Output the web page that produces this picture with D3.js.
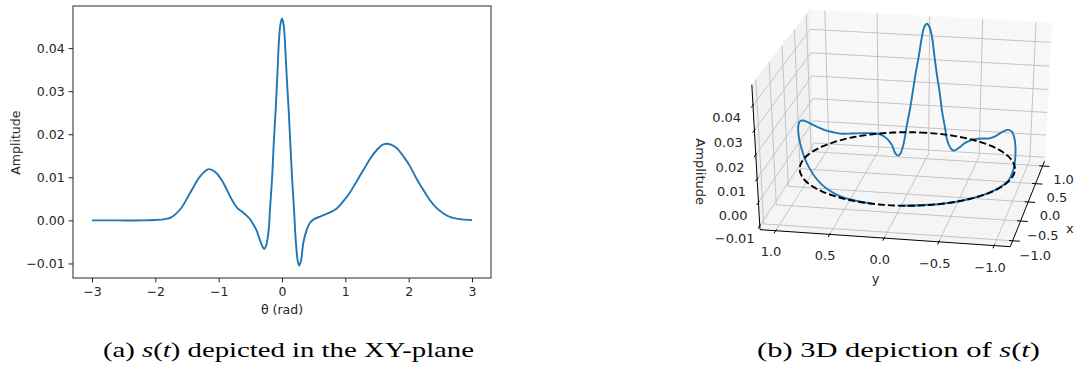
<!DOCTYPE html>
<html>
<head>
<meta charset="utf-8">
<script src="https://cdn.jsdelivr.net/npm/d3@7"></script>
<style>
body{margin:0;background:#fff}
svg{display:block}
text{font-family:"DejaVu Sans",sans-serif;fill:#262626}
.cap{font-family:"Liberation Serif",serif;fill:#000}
</style>
</head>
<body>
<svg width="1075" height="370"></svg>
<script>
// signal s(theta)
var theta = [-3.0,-2.6,-2.2,-2.0,-1.85,-1.75,-1.6,-1.45,-1.3,-1.2,-1.15,-1.05,-0.95,-0.87,-0.78,-0.7,-0.62,-0.55,-0.5,-0.45,-0.4,-0.35,-0.3,-0.28,-0.25,-0.21,-0.19,-0.155,-0.13,-0.1,-0.074,-0.05,-0.025,0,0.025,0.047,0.074,0.105,0.131,0.158,0.19,0.22,0.25,0.273,0.3,0.336,0.39,0.45,0.52,0.62,0.75,0.86,0.96,1.07,1.18,1.29,1.4,1.5,1.58,1.65,1.72,1.81,1.92,2.02,2.12,2.23,2.33,2.44,2.55,2.65,2.8,3.0];
var amplitude = [0,0,0,0.0001,0.0003,0.0007,0.0027,0.0064,0.0101,0.0116,0.0119,0.0112,0.0093,0.0071,0.0045,0.0028,0.0019,0.0010,0.0002,-0.0010,-0.0024,-0.0045,-0.0063,-0.0066,-0.0058,-0.0022,0.0025,0.0102,0.0180,0.0257,0.0335,0.0413,0.0455,0.0469,0.0455,0.0413,0.0335,0.0257,0.0180,0.0102,0.0025,-0.0053,-0.0095,-0.0105,-0.0094,-0.0053,-0.0022,-0.0004,0.0004,0.0010,0.0018,0.0027,0.0043,0.0064,0.0091,0.0118,0.0145,0.0164,0.0175,0.0178,0.0176,0.0168,0.0148,0.0126,0.0098,0.0071,0.0048,0.0029,0.0016,0.0008,0.0003,0.0001];

var xTicks = [-3,-2,-1,0,1,2,3];
var yTicks = [-0.01,0,0.01,0.02,0.03,0.04];
var xyTicks3d = [-1,-0.5,0,0.5,1];
var zTicks3d = [-0.01,0,0.01,0.02,0.03,0.04];

var blue = "#1f77b4";
var svg = d3.select("svg");
var pts = theta.map(function(t,i){ return {t:t, a:amplitude[i]}; });

// ---------- (a) flat plot ----------
var xScale = d3.scaleLinear().domain([-3.3,3.3]).range([73,491]);
var yScale = d3.scaleLinear().domain([-0.01337,0.04977]).range([278,6]);

var gA = svg.append("g");
gA.append("g")
  .attr("transform","translate(0,278)")
  .call(d3.axisBottom(xScale).tickValues(xTicks).tickFormat(d3.format("d")).tickSize(4.4).tickPadding(5))
  .call(function(g){ g.select(".domain").remove(); });
gA.append("g")
  .attr("transform","translate(73,0)")
  .call(d3.axisLeft(yScale).tickValues(yTicks).tickFormat(d3.format(".2f")).tickSize(4.4).tickPadding(4))
  .call(function(g){ g.select(".domain").remove(); });
gA.selectAll(".tick text").attr("font-size","12.5px").attr("font-family","DejaVu Sans").attr("fill","#262626");
gA.selectAll(".tick line").attr("stroke","#262626").attr("stroke-width",1);

gA.append("path")
  .datum(pts)
  .attr("fill","none")
  .attr("stroke",blue)
  .attr("stroke-width",1.9)
  .attr("d", d3.line().x(function(d){return xScale(d.t);}).y(function(d){return yScale(d.a);}).curve(d3.curveCatmullRom));

gA.append("rect").attr("x",73).attr("y",6).attr("width",418).attr("height",272)
  .attr("fill","none").attr("stroke","#262626").attr("stroke-width",1);

gA.append("text").attr("x",282).attr("y",313.5).attr("text-anchor","middle").attr("font-size","12.5px").text("θ (rad)");
gA.append("text").attr("transform","translate(19.5,142.7) rotate(-90)").attr("text-anchor","middle").attr("font-size","12.5px").text("Amplitude");

// ---------- (b) 3D plot ----------
var elev = 30, azim = 190.5, dist = 10;
var wx = d3.scaleLinear().domain([-1.1,1.1]).range([0,1]);
var wy = d3.scaleLinear().domain([-1.1,1.1]).range([0,1]);
var wz = d3.scaleLinear().domain([-0.0105,0.0469]).range([0,1]);
var b0 = -1/48, b1 = 1 + 1/48;

var er = elev*Math.PI/180, ar = azim*Math.PI/180;
var R = [0.5,0.5,0.5];
var E = [R[0]+Math.cos(ar)*Math.cos(er)*dist, R[1]+Math.sin(ar)*Math.cos(er)*dist, R[2]+Math.sin(er)*dist];
function sub(a,b){return [a[0]-b[0],a[1]-b[1],a[2]-b[2]];}
function dot(a,b){return a[0]*b[0]+a[1]*b[1]+a[2]*b[2];}
function cross(a,b){return [a[1]*b[2]-a[2]*b[1], a[2]*b[0]-a[0]*b[2], a[0]*b[1]-a[1]*b[0]];}
function norm(a){var l=Math.sqrt(dot(a,a));return [a[0]/l,a[1]/l,a[2]/l];}
var nv = norm(sub(E,R));
var uv = norm(cross([0,0,1],nv));
var vv = cross(nv,uv);
function proj(p){
  var d = sub(p,E);
  var zc = -dot(nv,d);
  return [dot(uv,d)/zc, dot(vv,d)/zc];
}
// fit the projected box into the panel
var sx = d3.scaleLinear().domain([proj([b0,b1,b0])[0], proj([b1,b0,b1])[0]]).range([760,1051.7]);
var sy = d3.scaleLinear().domain([proj([b1,b1,b1])[1], proj([b0,b0,b0])[1]]).range([10,246.7]);
function P(p){ var q = proj(p); return [sx(q[0]), sy(q[1])]; }
var poly = d3.line().x(function(d){return P(d)[0];}).y(function(d){return P(d)[1];});

var gB = svg.append("g");
// panes
var panes = [
  {c:"#f5f5f5", p:[[b0,b0,b0],[b1,b0,b0],[b1,b1,b0],[b0,b1,b0]]},
  {c:"#f1f1f1", p:[[b0,b1,b0],[b1,b1,b0],[b1,b1,b1],[b0,b1,b1]]},
  {c:"#f8f8f8", p:[[b1,b0,b0],[b1,b1,b0],[b1,b1,b1],[b1,b0,b1]]}
];
gB.selectAll("path.pane").data(panes).enter().append("path")
  .attr("fill",function(d){return d.c;}).attr("stroke",function(d){return d.c;})
  .attr("d",function(d){return poly(d.p)+"Z";});

// grid
var grid = [];
xyTicks3d.forEach(function(t){ var v=wx(t); grid.push([[v,b0,b0],[v,b1,b0],[v,b1,b1]]); });
xyTicks3d.forEach(function(t){ var v=wy(t); grid.push([[b0,v,b0],[b1,v,b0],[b1,v,b1]]); });
zTicks3d.forEach(function(t){ var v=wz(t); grid.push([[b0,b1,v],[b1,b1,v],[b1,b0,v]]); });
gB.selectAll("path.grid").data(grid).enter().append("path")
  .attr("fill","none").attr("stroke","#c4c4c4").attr("stroke-width",1)
  .attr("d",poly);

// axis lines
var axes = [
  [[b0,b0,b0],[b0,b1,b0]],
  [[b0,b0,b0],[b1,b0,b0]],
  [[b0,b1,b0],[b0,b1,b1]]
];
gB.selectAll("path.ax").data(axes).enter().append("path")
  .attr("fill","none").attr("stroke","#000").attr("stroke-width",1).attr("d",poly);

var ticks = [];
xyTicks3d.forEach(function(t){ var v=wy(t); ticks.push([[b0-0.03,v,b0],[b0+0.015,v,b0]]); });
xyTicks3d.forEach(function(t){ var v=wx(t); ticks.push([[v,b0-0.03,b0],[v,b0+0.015,b0]]); });
zTicks3d.forEach(function(t){ var v=wz(t); ticks.push([[b0-0.03,b1,v],[b0+0.015,b1,v]]); });
gB.selectAll("path.tk").data(ticks).enter().append("path")
  .attr("fill","none").attr("stroke","#000").attr("stroke-width",1).attr("d",poly);

var m = 1.15/12, M = 2.2/12;
var f1 = d3.format(".1f"), f2 = d3.format(".2f");
var labels = [];
xyTicks3d.forEach(function(t){ labels.push({p:[b0-m,wy(t),b0-m], s:f1(t)}); });
xyTicks3d.forEach(function(t){ labels.push({p:[wx(t),b0-m,b0-m], s:f1(t)}); });
zTicks3d.forEach(function(t){ labels.push({p:[b0-m-0.065,b1+m-0.03,wz(t)], s:f2(t)}); });
gB.selectAll("text.tl").data(labels).enter().append("text")
  .attr("x",function(d){return P(d.p)[0];}).attr("y",function(d){return P(d.p)[1];})
  .attr("text-anchor","middle").attr("dominant-baseline","central").attr("font-size","13px")
  .text(function(d){return d.s;});

var yl = P([b0-M,0.5,b0-M]), xl = P([0.5,b0-M,b0-M]), zl = P([b0-M,b1+M,0.5]);
gB.append("text").attr("x",yl[0]).attr("y",yl[1]).attr("text-anchor","middle").attr("dominant-baseline","central").attr("font-size","13px").text("y");
gB.append("text").attr("x",xl[0]).attr("y",xl[1]).attr("text-anchor","middle").attr("dominant-baseline","central").attr("font-size","13px").text("x");
gB.append("text").attr("transform","translate("+zl[0]+","+zl[1]+") rotate(90)").attr("text-anchor","middle").attr("dominant-baseline","central").attr("font-size","13px").text("Amplitude");

// curve on the unit circle
var line3d = d3.line().x(function(d){return d[0];}).y(function(d){return d[1];}).curve(d3.curveCatmullRom);
var curve3d = pts.map(function(d){ return P([wx(Math.cos(d.t)), wy(Math.sin(d.t)), wz(d.a)]); });
gB.append("path").attr("fill","none").attr("stroke",blue).attr("stroke-width",1.9).attr("d",line3d(curve3d));

var ring = d3.range(0, 2*Math.PI + 0.001, Math.PI/90).map(function(a){ return P([wx(Math.cos(a)), wy(Math.sin(a)), wz(0)]); });
gB.append("path").attr("fill","none").attr("stroke","#000").attr("stroke-width",1.9)
  .attr("stroke-dasharray","7,3").attr("d",line3d(ring));

// captions
function caption(x, w, parts){
  var t = svg.append("text").attr("class","cap").attr("x",x).attr("y",357).attr("font-size","21px")
    .attr("textLength",w).attr("lengthAdjust","spacingAndGlyphs");
  parts.forEach(function(s){
    t.append("tspan").attr("font-style",(s==="s"||s==="t")?"italic":"normal").text(s);
  });
}
caption(103, 371, ["(a) ", "s", "(", "t", ") depicted in the XY-plane"]);
caption(757, 283, ["(b) 3D depiction of ", "s", "(", "t", ")"]);
</script>
</body>
</html>
